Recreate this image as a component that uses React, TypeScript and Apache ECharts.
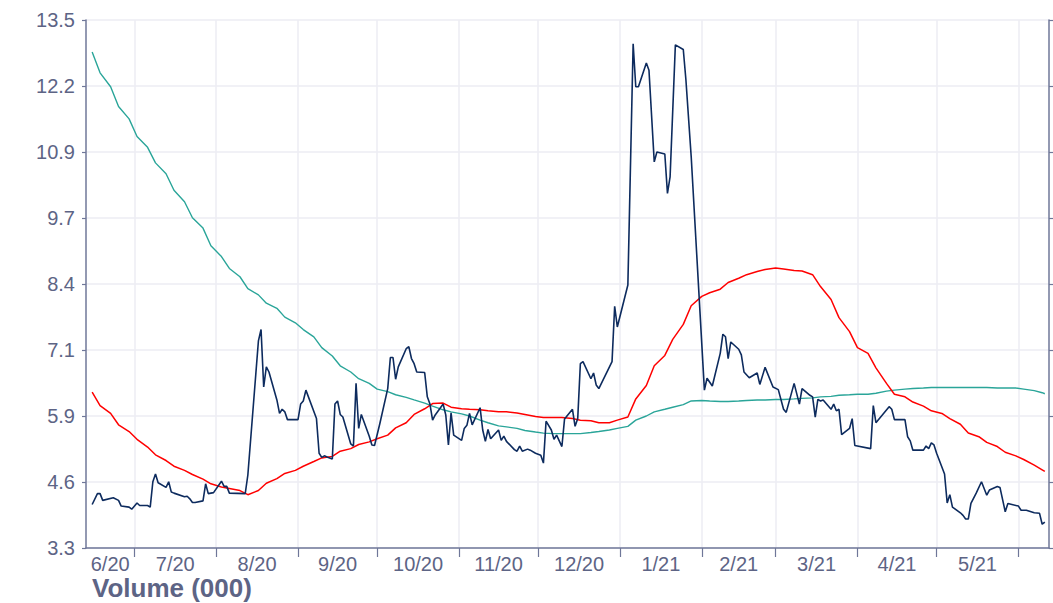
import React, { useEffect, useRef } from 'react';
import * as echarts from 'echarts';

// Daily volume (000)
const volumeDates = [
  '2020-06-15','2020-06-17','2020-06-18','2020-06-19','2020-06-23','2020-06-25','2020-06-26','2020-06-29','2020-06-30',
  '2020-07-02','2020-07-03','2020-07-06','2020-07-07','2020-07-08','2020-07-09','2020-07-10','2020-07-13','2020-07-14','2020-07-15','2020-07-16',
  '2020-07-20','2020-07-21','2020-07-22','2020-07-23','2020-07-24','2020-07-27','2020-07-28','2020-07-29','2020-07-31',
  '2020-08-03','2020-08-04','2020-08-05','2020-08-06','2020-08-12','2020-08-13','2020-08-17','2020-08-18','2020-08-19','2020-08-20','2020-08-21',
  '2020-08-24','2020-08-25','2020-08-26','2020-08-27','2020-08-28',
  '2020-09-01','2020-09-02','2020-09-03','2020-09-04','2020-09-08','2020-09-09','2020-09-10','2020-09-11','2020-09-12','2020-09-14','2020-09-15',
  '2020-09-16','2020-09-17','2020-09-18','2020-09-21','2020-09-22','2020-09-23','2020-09-24','2020-09-25','2020-09-28','2020-09-29','2020-09-30',
  '2020-10-02','2020-10-05','2020-10-06','2020-10-07','2020-10-08','2020-10-09','2020-10-12','2020-10-13','2020-10-14','2020-10-15','2020-10-16',
  '2020-10-19','2020-10-20','2020-10-21','2020-10-22','2020-10-23','2020-10-26','2020-10-27','2020-10-28','2020-10-29','2020-10-30',
  '2020-11-02','2020-11-03','2020-11-04','2020-11-05','2020-11-06','2020-11-09','2020-11-10','2020-11-11','2020-11-12','2020-11-13',
  '2020-11-16','2020-11-17','2020-11-18','2020-11-19','2020-11-22','2020-11-23','2020-11-24','2020-11-25','2020-11-27','2020-11-28','2020-11-30',
  '2020-12-02','2020-12-03','2020-12-04','2020-12-06','2020-12-07','2020-12-08','2020-12-10','2020-12-11','2020-12-14','2020-12-15','2020-12-16',
  '2020-12-17','2020-12-18','2020-12-21','2020-12-22','2020-12-23','2020-12-24','2020-12-29','2020-12-30','2020-12-31',
  '2021-01-04','2021-01-06','2021-01-07','2021-01-08','2021-01-11','2021-01-12','2021-01-14','2021-01-15','2021-01-18','2021-01-19','2021-01-20',
  '2021-01-22','2021-01-25','2021-01-26','2021-01-28',
  '2021-02-02','2021-02-03','2021-02-05','2021-02-08','2021-02-09','2021-02-10','2021-02-11','2021-02-12','2021-02-15','2021-02-16','2021-02-17',
  '2021-02-19','2021-02-22','2021-02-23','2021-02-25','2021-02-28',
  '2021-03-02','2021-03-04','2021-03-05','2021-03-08','2021-03-10','2021-03-11','2021-03-14','2021-03-15','2021-03-16','2021-03-17','2021-03-18',
  '2021-03-19','2021-03-22','2021-03-23','2021-03-24','2021-03-25','2021-03-26','2021-03-29','2021-03-30','2021-03-31',
  '2021-04-06','2021-04-07','2021-04-08','2021-04-13','2021-04-14','2021-04-15','2021-04-19','2021-04-20','2021-04-21','2021-04-22',
  '2021-04-26','2021-04-27','2021-04-28','2021-04-29','2021-04-30',
  '2021-05-01','2021-05-04','2021-05-05','2021-05-06','2021-05-07','2021-05-10','2021-05-11','2021-05-12','2021-05-13','2021-05-14',
  '2021-05-16','2021-05-18','2021-05-20','2021-05-21','2021-05-24','2021-05-25','2021-05-27','2021-05-28',
  '2021-06-01','2021-06-02','2021-06-04','2021-06-07','2021-06-09','2021-06-10','2021-06-11',
];
const volumeValues = [
  4.14,4.35,4.35,4.22,4.27,4.22,4.11,4.09,4.05,
  4.17,4.12,4.12,4.09,4.58,4.73,4.56,4.47,4.58,4.38,4.36,
  4.29,4.30,4.25,4.18,4.18,4.21,4.54,4.35,4.37,
  4.59,4.49,4.49,4.36,4.35,4.71,7.30,7.52,6.41,6.80,6.70,
  6.16,5.90,5.98,5.93,5.78,
  5.78,6.08,6.14,6.35,5.80,5.13,5.05,5.08,5.06,5.02,6.08,
  6.14,5.88,5.83,5.31,5.27,6.48,5.61,5.88,5.46,5.29,5.28,
  5.70,6.38,6.98,6.98,6.56,6.80,7.15,7.19,6.96,6.86,6.70,
  6.69,6.22,6.08,5.77,5.87,6.08,5.87,5.29,5.91,5.48,
  5.38,5.61,5.67,5.90,5.68,6.01,5.58,5.36,5.59,5.41,
  5.58,5.38,5.46,5.36,5.20,5.17,5.27,5.17,5.21,5.19,5.13,
  5.09,4.94,5.75,5.58,5.40,5.48,5.26,5.79,5.98,5.65,5.80,
  6.86,6.90,6.57,6.68,6.45,6.38,6.90,7.97,7.57,
  8.38,13.04,12.21,12.21,12.67,12.53,10.76,10.95,10.91,10.15,10.47,
  13.02,12.93,12.34,10.86,
  6.35,6.58,6.43,7.06,7.43,7.38,6.96,7.28,7.14,7.03,6.70,
  6.59,6.68,6.46,6.79,6.41,
  6.36,5.98,5.92,6.48,6.08,6.38,6.25,6.22,5.83,6.17,6.14,
  6.16,5.98,6.08,5.95,5.98,5.49,5.61,5.80,5.28,
  5.22,6.05,5.72,6.03,5.98,5.78,5.78,5.45,5.37,5.19,
  5.19,5.27,5.22,5.33,5.29,
  5.13,4.73,4.17,4.33,4.09,3.98,3.93,3.86,3.86,4.16,
  4.36,4.58,4.32,4.42,4.49,4.47,4.00,4.16,
  4.11,4.03,4.03,3.98,3.97,3.76,3.80,
];

// Moving averages, sampled twice a week
const maDates = [
  '2020-06-15','2020-06-18','2020-06-22','2020-06-25','2020-06-29','2020-07-02','2020-07-06','2020-07-09','2020-07-13','2020-07-16',
  '2020-07-20','2020-07-23','2020-07-27','2020-07-30','2020-08-03','2020-08-06','2020-08-10','2020-08-13','2020-08-17','2020-08-20',
  '2020-08-24','2020-08-27','2020-08-31','2020-09-03','2020-09-07','2020-09-10','2020-09-14','2020-09-17','2020-09-21','2020-09-24',
  '2020-09-28','2020-10-01','2020-10-05','2020-10-08','2020-10-12','2020-10-15','2020-10-19','2020-10-22','2020-10-26','2020-10-29',
  '2020-11-02','2020-11-05','2020-11-09','2020-11-12','2020-11-16','2020-11-19','2020-11-23','2020-11-26','2020-11-30','2020-12-03',
  '2020-12-07','2020-12-10','2020-12-14','2020-12-17','2020-12-21','2020-12-24','2020-12-28','2020-12-31','2021-01-04','2021-01-07',
  '2021-01-11','2021-01-14','2021-01-18','2021-01-21','2021-01-25','2021-01-28','2021-02-01','2021-02-04','2021-02-08','2021-02-11',
  '2021-02-15','2021-02-18','2021-02-22','2021-02-25','2021-03-01','2021-03-04','2021-03-08','2021-03-11','2021-03-15','2021-03-18',
  '2021-03-22','2021-03-25','2021-03-29','2021-04-01','2021-04-05','2021-04-08','2021-04-12','2021-04-15','2021-04-19','2021-04-22',
  '2021-04-26','2021-04-29','2021-05-03','2021-05-06','2021-05-10','2021-05-13','2021-05-17','2021-05-20','2021-05-24','2021-05-27',
  '2021-05-31','2021-06-03','2021-06-07','2021-06-10','2021-06-11',
];
const ma50Values = [
  6.31,6.05,5.90,5.68,5.55,5.40,5.25,5.10,4.99,4.88,
  4.80,4.72,4.63,4.54,4.48,4.45,4.41,4.33,4.41,4.55,
  4.64,4.74,4.80,4.88,4.97,5.04,5.07,5.17,5.22,5.30,
  5.35,5.41,5.48,5.62,5.72,5.88,5.99,6.09,6.10,6.02,
  5.99,5.98,5.97,5.95,5.93,5.93,5.91,5.88,5.84,5.82,
  5.82,5.82,5.80,5.77,5.76,5.72,5.72,5.77,5.83,6.18,
  6.44,6.82,7.02,7.33,7.62,7.98,8.16,8.23,8.30,8.43,
  8.51,8.58,8.64,8.68,8.71,8.69,8.66,8.65,8.58,8.35,
  8.10,7.75,7.48,7.17,7.06,6.78,6.48,6.27,6.22,6.12,
  6.04,5.95,5.90,5.80,5.69,5.52,5.45,5.34,5.26,5.15,
  5.08,5.01,4.90,4.81,4.78,
];
const ma200Values = [
  12.88,12.48,12.21,11.83,11.59,11.25,11.04,10.74,10.53,10.21,
  9.99,9.68,9.48,9.14,8.93,8.70,8.54,8.31,8.19,8.03,
  7.93,7.76,7.65,7.52,7.38,7.17,7.01,6.82,6.70,6.57,
  6.48,6.37,6.32,6.26,6.21,6.16,6.10,6.04,5.97,5.93,
  5.89,5.85,5.77,5.72,5.66,5.64,5.61,5.57,5.54,5.52,
  5.51,5.51,5.51,5.51,5.53,5.55,5.58,5.61,5.65,5.77,
  5.85,5.93,5.98,6.02,6.07,6.14,6.15,6.14,6.13,6.13,
  6.14,6.15,6.16,6.16,6.17,6.17,6.18,6.19,6.20,6.22,
  6.23,6.25,6.26,6.27,6.27,6.29,6.33,6.35,6.37,6.38,
  6.39,6.40,6.40,6.40,6.40,6.40,6.40,6.40,6.39,6.39,
  6.39,6.37,6.34,6.30,6.28,
];

const yTickLabels = ['3.3', '4.6', '5.9', '7.1', '8.4', '9.7', '10.9', '12.2', '13.5'];
const xTickLabels = ['6/20', '7/20', '8/20', '9/20', '10/20', '11/20', '12/20', '1/21', '2/21', '3/21', '4/21', '5/21'];
const Y_MIN = 3.3;
const Y_MAX = 13.5;

const AXIS_COLOR = '#6f7799';
const LABEL_COLOR = '#5d6485';
const GRID_COLOR = '#ececf3';
const FONT = '"Liberation Sans", Arial, sans-serif';

const toTime = (s: string) => {
  const [y, m, d] = s.split('-').map(Number);
  return new Date(y, m - 1, d).getTime();
};

export default function App() {
  const ref = useRef<HTMLDivElement>(null);

  useEffect(() => {
    if (!ref.current) return;
    const chart = echarts.init(ref.current, null, { renderer: 'svg' });

    const xMin = new Date(2020, 5, 12, 16).getTime();
    const xMax = new Date(2021, 5, 12, 14).getTime();
    const monthStarts: number[] = [];
    for (let i = 0; i < 12; i++) monthStarts.push(new Date(2020, 6 + i, 1).getTime());
    const bounds = [xMin, ...monthStarts];
    const xLabelValues = xTickLabels.map((_, i) => (bounds[i] + bounds[i + 1]) / 2);

    const yStep = (Y_MAX - Y_MIN) / (yTickLabels.length - 1);
    const yTickValues = yTickLabels.map((_, i) => Y_MIN + i * yStep);

    const nearest = (vals: number[], labels: string[], v: number) => {
      let best = 0;
      vals.forEach((t, i) => {
        if (Math.abs(t - v) < Math.abs(vals[best] - v)) best = i;
      });
      return labels[best];
    };

    chart.setOption({
      animation: false,
      grid: { left: 86, right: 4, top: 20, bottom: 55, containLabel: false, outerBoundsMode: 'none' },
      xAxis: {
        type: 'value',
        min: xMin,
        max: xMax,
        axisLine: { show: true, lineStyle: { color: AXIS_COLOR, width: 1.5 } },
        axisTick: { show: true, length: 9, customValues: monthStarts, lineStyle: { color: AXIS_COLOR, width: 1.2 } },
        axisLabel: {
          customValues: xLabelValues,
          formatter: (v: number) => nearest(xLabelValues, xTickLabels, v),
          color: LABEL_COLOR,
          fontSize: 20,
          lineHeight: 16,
          fontFamily: FONT,
          margin: 8,
          hideOverlap: false,
        },
        splitLine: { show: true, lineStyle: { color: GRID_COLOR, width: 1.5 } },
      },
      yAxis: [
        {
          type: 'value',
          min: Y_MIN,
          max: Y_MAX,
          position: 'left',
          axisLine: { show: true, lineStyle: { color: AXIS_COLOR, width: 1.5 } },
          axisTick: { show: true, length: 4, customValues: yTickValues, lineStyle: { color: AXIS_COLOR, width: 1.2 } },
          axisLabel: {
            customValues: yTickValues,
            formatter: (v: number) => nearest(yTickValues, yTickLabels, v),
            color: LABEL_COLOR,
            fontSize: 20,
            fontFamily: FONT,
            margin: 11,
          },
          splitLine: { show: true, lineStyle: { color: GRID_COLOR, width: 1.5 } },
        },
        {
          type: 'value',
          min: Y_MIN,
          max: Y_MAX,
          position: 'right',
          axisLine: { show: true, lineStyle: { color: AXIS_COLOR, width: 1.5 } },
          axisTick: { show: true, length: 4, customValues: yTickValues, lineStyle: { color: AXIS_COLOR, width: 1.2 } },
          axisLabel: { show: false },
          splitLine: { show: false },
        },
      ],
      series: [
        {
          name: '200-day MA',
          type: 'line',
          yAxisIndex: 0,
          data: maDates.map((d, i) => [toTime(d), ma200Values[i]]),
          showSymbol: false,
          symbol: 'none',
          lineStyle: { color: '#2aa599', width: 1.4 },
          z: 2,
        },
        {
          name: '50-day MA',
          type: 'line',
          yAxisIndex: 0,
          data: maDates.map((d, i) => [toTime(d), ma50Values[i]]),
          showSymbol: false,
          symbol: 'none',
          lineStyle: { color: '#ff0000', width: 1.5 },
          z: 3,
        },
        {
          name: 'Volume',
          type: 'line',
          yAxisIndex: 0,
          data: volumeDates.map((d, i) => [toTime(d), volumeValues[i]]),
          showSymbol: false,
          symbol: 'none',
          lineStyle: { color: '#0d2b5e', width: 1.6 },
          z: 4,
        },
      ],
      graphic: [
        {
          type: 'text',
          left: 92,
          top: 575,
          style: {
            text: 'Volume (000)',
            fill: LABEL_COLOR,
            font: `bold 26px ${FONT}`,
            lineHeight: 20,
          },
        },
      ],
    });

    return () => chart.dispose();
  }, []);

  return (
    <div
      ref={ref}
      style={{ position: 'absolute', left: 0, top: 0, width: 1053, height: 603 }}
    />
  );
}
